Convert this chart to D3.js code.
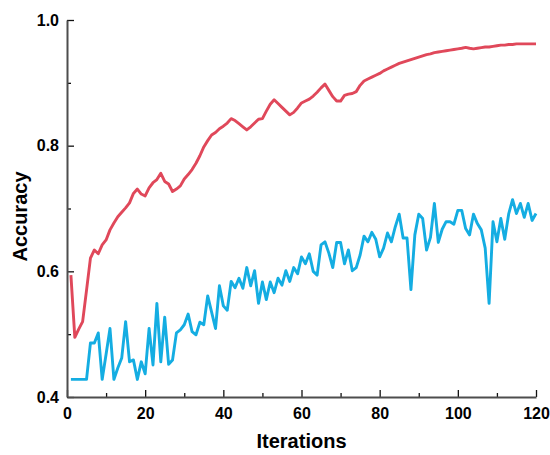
<!DOCTYPE html>
<html>
<head>
<meta charset="utf-8">
<script src="https://cdn.jsdelivr.net/npm/d3@7"></script>
<style>
  html, body { margin: 0; padding: 0; background: #fff; }
  svg { display: block; }
</style>
</head>
<body>
<div id="chart"></div>
<script>
// iterations 1..120
const iterations = d3.range(1, 121);

// red curve (upper)
const redAcc = [
  0.594, 0.495, 0.508, 0.520, 0.570, 0.621, 0.634, 0.628, 0.642, 0.650,
  0.666, 0.677, 0.687, 0.694, 0.701, 0.709, 0.724, 0.731, 0.723, 0.720,
  0.733, 0.741, 0.746, 0.756, 0.743, 0.739, 0.727, 0.731, 0.736, 0.747,
  0.754, 0.762, 0.772, 0.784, 0.798, 0.808, 0.817, 0.821, 0.827, 0.831,
  0.836, 0.843, 0.840, 0.835, 0.830, 0.825, 0.830, 0.836, 0.842, 0.843,
  0.855, 0.866, 0.873, 0.867, 0.861, 0.855, 0.849, 0.853, 0.860, 0.868,
  0.871, 0.874, 0.879, 0.885, 0.892, 0.898, 0.888, 0.878, 0.871, 0.871,
  0.880, 0.882, 0.883, 0.886, 0.896, 0.903, 0.906, 0.909, 0.912, 0.915,
  0.919, 0.922, 0.925, 0.928, 0.931, 0.933, 0.935, 0.937, 0.939, 0.941,
  0.943, 0.945, 0.946, 0.948, 0.949, 0.950, 0.951, 0.952, 0.953, 0.954,
  0.955, 0.9565, 0.955, 0.954, 0.955, 0.956, 0.957, 0.957, 0.958, 0.959,
  0.960, 0.960, 0.961, 0.961, 0.962, 0.962, 0.962, 0.962, 0.962, 0.962
];

// blue curve (lower)
const blueAcc = [
  0.428, 0.428, 0.428, 0.428, 0.428, 0.486, 0.486, 0.502, 0.428, 0.468,
  0.509, 0.428, 0.446, 0.462, 0.520, 0.456, 0.459, 0.428, 0.456, 0.437,
  0.509, 0.451, 0.549, 0.456, 0.527, 0.452, 0.459, 0.502, 0.507, 0.515,
  0.532, 0.504, 0.499, 0.519, 0.515, 0.561, 0.535, 0.509, 0.577, 0.545,
  0.538, 0.584, 0.574, 0.589, 0.573, 0.606, 0.577, 0.601, 0.549, 0.583,
  0.555, 0.583, 0.566, 0.589, 0.578, 0.601, 0.584, 0.606, 0.596, 0.623,
  0.612, 0.628, 0.600, 0.594, 0.642, 0.647, 0.629, 0.606, 0.646, 0.646,
  0.612, 0.634, 0.601, 0.606, 0.626, 0.656, 0.647, 0.662, 0.651, 0.623,
  0.637, 0.661, 0.647, 0.671, 0.691, 0.653, 0.653, 0.571, 0.658, 0.691,
  0.684, 0.634, 0.654, 0.708, 0.646, 0.667, 0.679, 0.679, 0.675, 0.697,
  0.697, 0.668, 0.658, 0.691, 0.676, 0.666, 0.637, 0.549, 0.679, 0.647,
  0.684, 0.651, 0.691, 0.714, 0.692, 0.708, 0.686, 0.708, 0.681, 0.692
];

const xTicks = [0, 20, 40, 60, 80, 100, 120];
const yTicks = [0.4, 0.6, 0.8, 1.0];

let width = 550,
    height = 455,
    margin = ({ top: 20, right: 14, bottom: 58, left: 67 });

let x = d3.scaleLinear()
    .domain([0, 120])
    .range([margin.left, width - margin.right]);

let y = d3.scaleLinear()
    .domain([0.4, 1.0])
    .range([height - margin.bottom, margin.top]);

let svg = d3.select("#chart")
    .append("svg")
    .attr("width", width)
    .attr("height", height)
    .style("font-family", "'Liberation Sans', Arial, sans-serif");

let axisColor = "#4d4d4d";

// minor ticks first, then major ticks with labels
let xMinor = g => g
    .attr("transform", `translate(0,${y(0.4)})`)
    .call(d3.axisTop(x).tickValues(d3.range(10, 120, 20)).tickSize(4).tickFormat(""))
    .call(g => g.select(".domain").remove());

let yMinor = g => g
    .attr("transform", `translate(${x(0)},0)`)
    .call(d3.axisRight(y).tickValues([0.5, 0.7, 0.9]).tickSize(4).tickFormat(""))
    .call(g => g.select(".domain").remove());

let xAxis = g => g
    .attr("transform", `translate(0,${y(0.4)})`)
    .call(d3.axisBottom(x).tickValues(xTicks).tickSize(0).tickPadding(11).tickSizeOuter(0));

let yAxis = g => g
    .attr("transform", `translate(${x(0)},0)`)
    .call(d3.axisLeft(y).tickValues(yTicks).tickFormat(d3.format(".1f")).tickSize(0).tickPadding(8).tickSizeOuter(0));

// major ticks pointing inward
let xMajor = g => g
    .attr("transform", `translate(0,${y(0.4)})`)
    .call(d3.axisTop(x).tickValues(xTicks).tickSize(7).tickFormat(""))
    .call(g => g.select(".domain").remove());

let yMajor = g => g
    .attr("transform", `translate(${x(0)},0)`)
    .call(d3.axisRight(y).tickValues(yTicks).tickSize(7).tickFormat(""))
    .call(g => g.select(".domain").remove());

let line = d3.line()
    .x((d, i) => x(iterations[i]))
    .y(d => y(d));

svg.append("path")
    .datum(redAcc)
    .attr("fill", "none")
    .attr("stroke", "#e0485a")
    .attr("stroke-width", 2.9)
    .attr("stroke-linejoin", "round")
    .attr("d", line);

svg.append("path")
    .datum(blueAcc)
    .attr("fill", "none")
    .attr("stroke", "#14ade2")
    .attr("stroke-width", 2.9)
    .attr("stroke-linejoin", "round")
    .attr("d", line);

[xMinor, yMinor, xMajor, yMajor, xAxis, yAxis].forEach(fn => {
    svg.append("g").call(fn);
});

svg.selectAll(".tick line")
    .attr("stroke", "#111")
    .attr("stroke-width", 1.3);

svg.selectAll(".domain")
    .attr("stroke", axisColor)
    .attr("stroke-width", 2);

svg.selectAll(".tick text")
    .style("font-size", "16px")
    .style("font-weight", "bold")
    .style("font-family", "'Liberation Sans', Arial, sans-serif")
    .attr("fill", "#000");

// axis titles
svg.append("text")
    .attr("x", (x(0) + x(120)) / 2)
    .attr("y", 448)
    .attr("text-anchor", "middle")
    .style("font-size", "20px")
    .style("font-weight", "bold")
    .text("Iterations");

svg.append("text")
    .attr("transform", `translate(27,${(y(0.4) + y(1.0)) / 2 + 8}) rotate(-90)`)
    .attr("text-anchor", "middle")
    .style("font-size", "20px")
    .style("font-weight", "bold")
    .text("Accuracy");
</script>
</body>
</html>
